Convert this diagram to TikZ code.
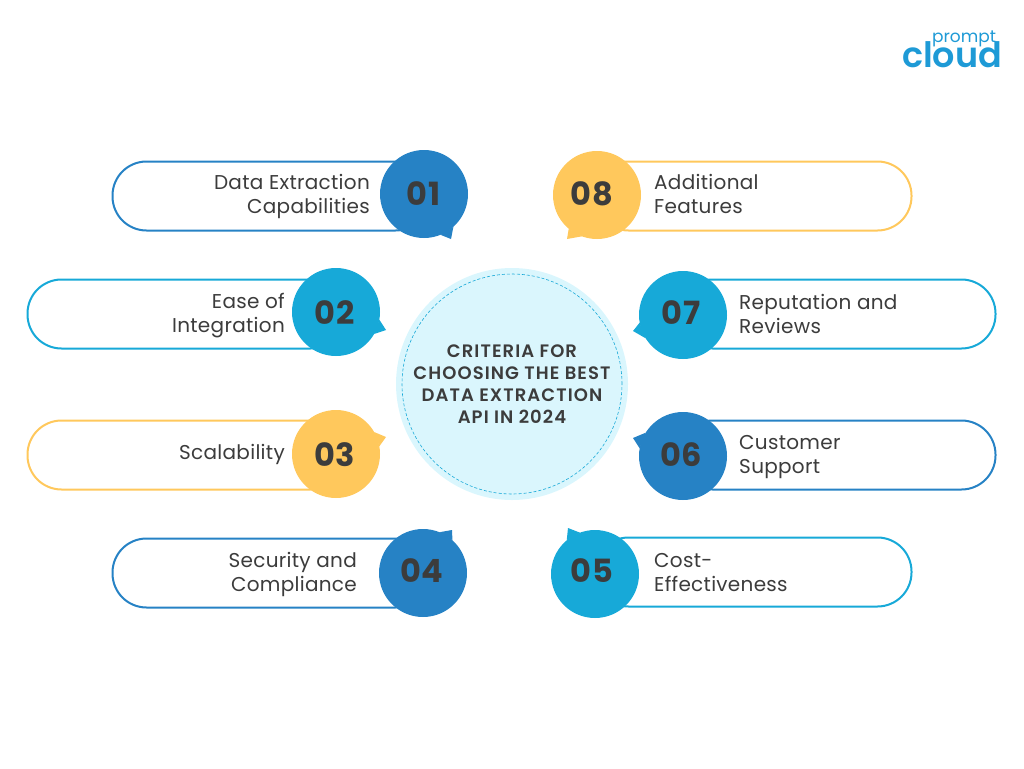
\documentclass[tikz,border=0pt]{standalone}
\usepackage{fontspec}
\setmainfont{Poppins}
\newfontfamily\semifont[LetterSpace=6]{Poppins SemiBold}
\newfontfamily\logofont{Poppins SemiBold}
\newfontfamily\labelfont[LetterSpace=1.5]{Poppins}
\newfontfamily\numfont[LetterSpace=1.5]{Poppins}
\usetikzlibrary{shapes.geometric, positioning}
\definecolor{darkblue}{HTML}{2682C5}
\definecolor{skyblue}{HTML}{17A9D8}
\definecolor{logoblue}{HTML}{1E9AD6}
\definecolor{sunny}{HTML}{FFC85C}
\definecolor{ink}{HTML}{3C3C3C}
\definecolor{pale}{HTML}{DAF6FD}

\begin{document}
\begin{tikzpicture}[
    x=1pt, y=-1pt,
    node distance=11pt,
    pill/.style={
        rectangle,
        draw=#1,
        line width=2pt,
        fill=white,
        rounded corners=34pt,
        minimum width=317pt,
        minimum height=69pt,
        inner sep=0pt
    },
    badge/.style={
        circle,
        fill=#1,
        minimum size=88pt,
        inner sep=0pt,
        outer sep=0pt
    },
    number/.style={inner sep=0pt, text=ink, font=\fontsize{32}{32}\numfont\bfseries},
    leftlabel/.style={align=right, text=ink, inner sep=0pt, font=\fontsize{20}{24}\labelfont},
    rightlabel/.style={align=left, text=ink, inner sep=0pt, font=\fontsize{20}{24}\labelfont}
]
\useasboundingbox (0,0) rectangle (1024,768);

% Logo
\node[anchor=base, text=logoblue, inner sep=0pt, font=\fontsize{17}{17}\selectfont] (prompt) at (964,42) {prompt};
\node[anchor=base, text=logoblue, inner sep=0pt, font=\fontsize{35}{35}\logofont] (cloud) at (952,67) {cloud};

% Centre
\node[circle, fill=pale, minimum size=232pt, inner sep=0pt] (hub) at (512,384) {};
\node[circle, draw=skyblue, densely dashed, line width=0.6pt, minimum size=220pt, inner sep=0pt] (hubring) at (512,384) {};
\node[align=center, text=ink, inner sep=0pt, font=\fontsize{18}{22}\semifont] (title) at (512,384) {CRITERIA FOR\\CHOOSING THE BEST\\DATA EXTRACTION\\API IN 2024};

% Left side pills
\node[pill=darkblue] (pill1) at (271,196) {};
\node[pill=skyblue] (pill2) at (186,314) {};
\node[pill=sunny] (pill3) at (186,455) {};
\node[pill=darkblue] (pill4) at (271,573) {};

% Right side pills
\node[pill=sunny] (pill8) at (753,196) {};
\node[pill=skyblue] (pill7) at (837,314) {};
\node[pill=darkblue] (pill6) at (837,455) {};
\node[pill=skyblue] (pill5) at (753,572) {};

% Circles
\node[badge=darkblue] (num1) at (424,194) {};
\node[badge=skyblue] (num2) at (336,312) {};
\node[badge=sunny] (num3) at (336,454) {};
\node[badge=darkblue] (num4) at (423,573) {};
\node[badge=skyblue] (num5) at (595,574) {};
\node[badge=darkblue] (num6) at (683,456) {};
\node[badge=skyblue] (num7) at (683,315) {};
\node[badge=sunny] (num8) at (597,195) {};

% Numbers
\node[number] (digits1) at (423.5,193.5) {01};
\node[number] (digits2) at (334.5,312.5) {02};
\node[number] (digits3) at (334.5,454.5) {03};
\node[number] (digits4) at (422,570.5) {04};
\node[number] (digits5) at (592,570.5) {05};
\node[number] (digits6) at (681.5,454.5) {06};
\node[number] (digits7) at (681,312.5) {07};
\node[number] (digits8) at (592,193.5) {08};

% Tails
\coordinate (tip1) at (451,239);
\coordinate (tip2) at (386,330);
\coordinate (tip3) at (386,437);
\coordinate (tip4) at (452,530);
\coordinate (tip5) at (568,528);
\coordinate (tip6) at (633,438);
\coordinate (tip7) at (633,331);
\coordinate (tip8) at (567,239);
\fill[darkblue] (num1.-48) -- (tip1) -- (num1.-68) -- cycle;
\fill[skyblue] (num2.-10) -- (tip2) -- (num2.-30) -- cycle;
\fill[sunny] (num3.10) -- (tip3) -- (num3.30) -- cycle;
\fill[darkblue] (num4.48) -- (tip4) -- (num4.68) -- cycle;
\fill[skyblue] (num5.130) -- (tip5) -- (num5.110) -- cycle;
\fill[darkblue] (num6.170) -- (tip6) -- (num6.148) -- cycle;
\fill[skyblue] (num7.190) -- (tip7) -- (num7.212) -- cycle;
\fill[sunny] (num8.230) -- (tip8) -- (num8.250) -- cycle;

% Labels
\node[leftlabel, left=10pt of num1, yshift=-2pt] (text1) {Data Extraction\\Capabilities};
\node[leftlabel, left=7pt of num2, yshift=-4pt] (text2) {Ease of\\Integration};
\node[leftlabel, left=7pt of num3, yshift=0pt] (text3) {Scalability};
\node[leftlabel, left=22pt of num4, yshift=-1pt] (text4) {Security and\\Compliance};
\node[rightlabel, right=15pt of num5, yshift=1pt] (text5) {Cost-\\Effectiveness};
\node[rightlabel, right=12pt of num6, yshift=-1pt] (text6) {Customer\\Support};
\node[rightlabel, right=12pt of num7, yshift=1pt] (text7) {Reputation and\\Reviews};
\node[rightlabel, right=13pt of num8, yshift=1pt] (text8) {Additional\\Features};

\end{tikzpicture}
\end{document}
